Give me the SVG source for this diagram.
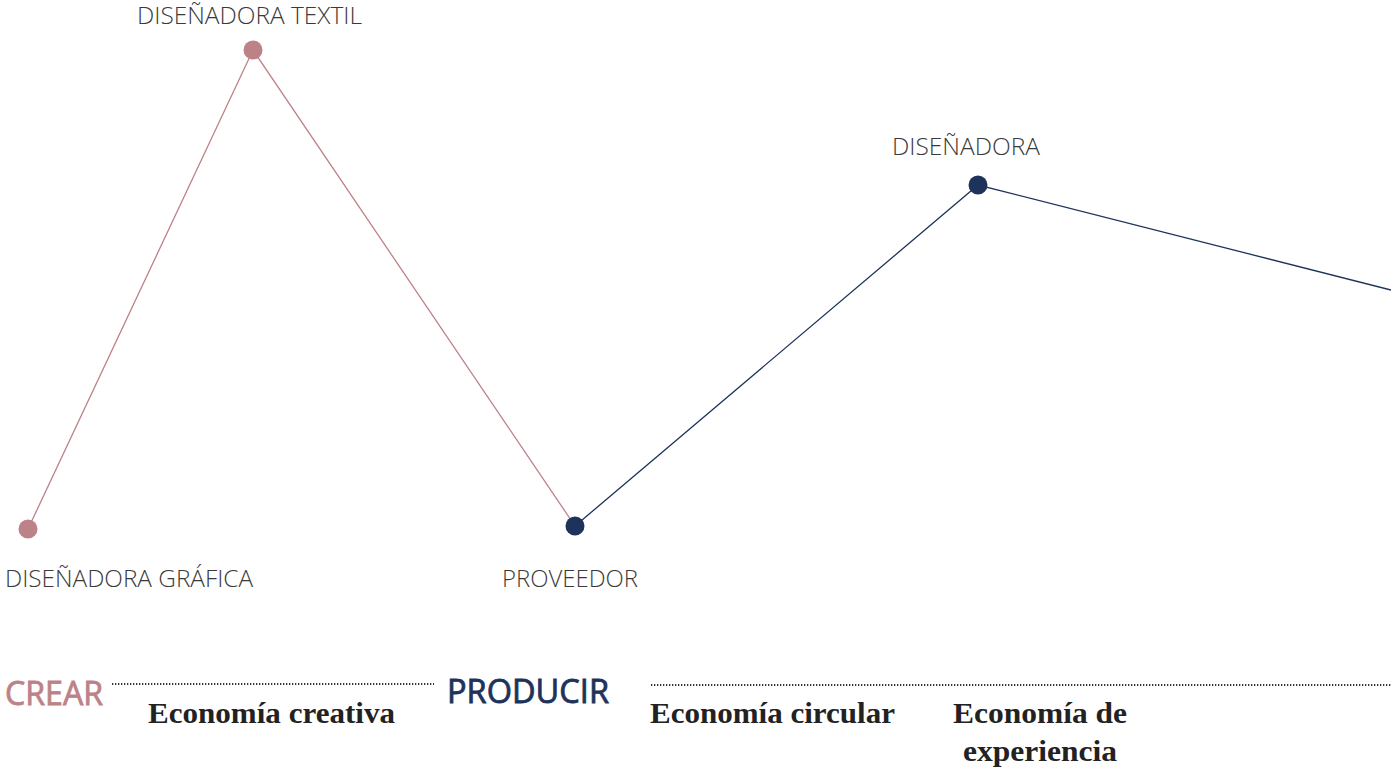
<svg xmlns="http://www.w3.org/2000/svg" width="1391" height="771" viewBox="0 0 1391 771">
<style>
.lbl{font-family:"Open Sans","Noto Sans",sans-serif;font-weight:300;font-size:24px;fill:#3a3a3a}
.pink{fill:#bd8287}
.navy{fill:#1e335b}
.head{font-family:"Open Sans","Noto Sans",sans-serif;font-weight:400;font-size:32px;stroke-width:0.8}
.head.pink{stroke:#bd8287}
.head.navy{stroke:#1e335b}
.eco{font-family:"Liberation Serif","DejaVu Serif",serif;font-weight:bold;font-size:30px;fill:#222}
.dots{stroke:#333;stroke-width:2;stroke-dasharray:1.3 1.7;fill:none}
</style>
<rect width="1391" height="771" fill="#fff"/>
<g id="connectors" fill="none" stroke-width="1.3">
<polyline points="28,529 253,50 575,526" stroke="#bd8287"/>
<polyline points="575,526 978,185 1391,290" stroke="#1e335b"/>
</g>
<g id="n-grafica"><circle cx="28" cy="529" r="9.5" class="pink"/><text x="5" y="587" class="lbl" textLength="248" lengthAdjust="spacingAndGlyphs">DISEÑADORA GRÁFICA</text></g>
<g id="n-textil"><circle cx="253" cy="50" r="9.5" class="pink"/><text x="137" y="24" class="lbl" textLength="225" lengthAdjust="spacingAndGlyphs">DISEÑADORA TEXTIL</text></g>
<g id="n-proveedor"><circle cx="575" cy="526" r="9.5" class="navy"/><text x="502" y="587" class="lbl" textLength="136" lengthAdjust="spacingAndGlyphs">PROVEEDOR</text></g>
<g id="n-disenadora"><circle cx="978" cy="185" r="9.5" class="navy"/><text x="892" y="155" class="lbl" textLength="148" lengthAdjust="spacingAndGlyphs">DISEÑADORA</text></g>
<g id="axis">
<line x1="112" y1="684" x2="434" y2="684" class="dots"/>
<line x1="651" y1="685" x2="1391" y2="685" class="dots"/>
<text x="5" y="705" class="head pink" textLength="98" lengthAdjust="spacingAndGlyphs">CREAR</text>
<text x="447" y="703" class="head navy" textLength="162" lengthAdjust="spacingAndGlyphs">PRODUCIR</text>
<text x="148" y="723" class="eco" textLength="247" lengthAdjust="spacingAndGlyphs">Economía creativa</text>
<text x="650" y="723" class="eco" textLength="245" lengthAdjust="spacingAndGlyphs">Economía circular</text>
<text x="953" y="723" class="eco" textLength="174" lengthAdjust="spacingAndGlyphs">Economía de</text>
<text x="963" y="761" class="eco" textLength="154" lengthAdjust="spacingAndGlyphs">experiencia</text>
</g>
</svg>
